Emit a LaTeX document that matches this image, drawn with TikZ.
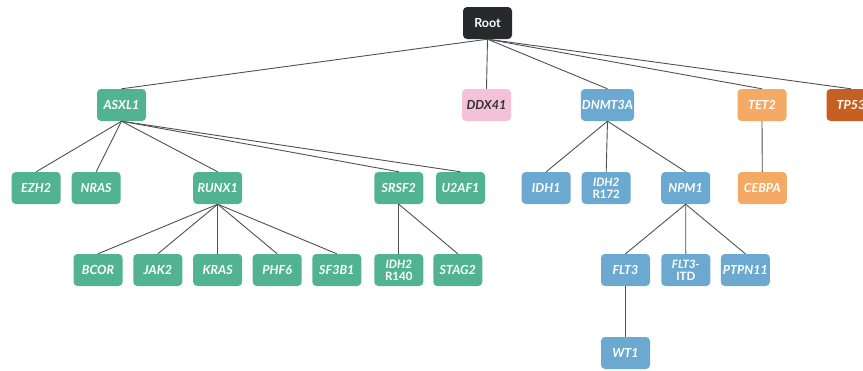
\documentclass[tikz,border=0pt]{standalone}
\usepackage{fontspec}
\setmainfont{Lato}
\definecolor{cgreen}{HTML}{52B393}
\definecolor{cblue}{HTML}{6CA9D1}
\definecolor{corange}{HTML}{F4A964}
\definecolor{cdorange}{HTML}{C65F22}
\definecolor{cpink}{HTML}{F5C1D9}
\definecolor{croot}{HTML}{262A2D}
\definecolor{cedge}{HTML}{505050}
\begin{document}
\begin{tikzpicture}[x=1pt,y=-1pt,
  box/.style={rounded corners=4pt,minimum width=49pt,minimum height=32pt,inner sep=1pt,
    text=white,font=\fontsize{12.5}{12.5}\selectfont\bfseries\itshape,align=center},
  gn/.style={box,fill=cgreen},
  bn/.style={box,fill=cblue},
  on/.style={box,fill=corange},
  dn/.style={box,fill=cdorange},
  pn/.style={box,fill=cpink,text=black!80},
  rn/.style={box,fill=croot,font=\fontsize{12.5}{12.5}\selectfont\bfseries},
  two/.style={font=\fontsize{11.5}{12}\selectfont\bfseries},
  edge/.style={draw=cedge,line width=0.9pt}]
\useasboundingbox (0,0) rectangle (863,370);
% row 0
\node[rn] (root) at (487.5,23) {Root};
% row 1
\node[gn] (asxl1) at (121.5,105) {ASXL1};
\node[pn] (ddx41) at (486.5,105) {DDX41};
\node[bn] (dnmt3a) at (607.5,105) {DNMT3A};
\node[on] (tet2) at (762,105) {TET2};
\node[dn] (tp53) at (851,105) {TP53};
% row 2
\node[gn] (ezh2) at (36.2,188) {EZH2};
\node[gn] (nras) at (96.2,188) {NRAS};
\node[gn] (runx1) at (217.7,188) {RUNX1};
\node[gn] (srsf2) at (398.8,188) {SRSF2};
\node[gn] (u2af1) at (460.5,188) {U2AF1};
\node[bn] (idh1) at (546.2,188) {IDH1};
\node[bn,two] (idh2b) at (606.2,188) {\itshape IDH2\\R172};
\node[bn] (npm1) at (685.7,188) {NPM1};
\node[on] (cebpa) at (762.3,188) {CEBPA};
% row 3
\node[gn] (bcor) at (98,270) {BCOR};
\node[gn] (jak2) at (157.8,270) {JAK2};
\node[gn] (kras) at (217.7,270) {KRAS};
\node[gn] (phf6) at (277.2,270) {PHF6};
\node[gn] (sf3b1) at (336.8,270) {SF3B1};
\node[gn,two] (idh2a) at (398.8,270) {\itshape IDH2\\R140};
\node[gn] (stag2) at (457.8,270) {STAG2};
\node[bn] (flt3) at (625.5,270) {FLT3};
\node[bn,two] (flt3itd) at (685.8,270) {\itshape FLT3-\\ITD};
\node[bn] (ptpn11) at (745.3,270) {PTPN11};
% row 4
\node[bn] (wt1) at (625.5,353) {WT1};
% edges
\foreach \p/\c in {root/asxl1,root/ddx41,root/dnmt3a,root/tet2,root/tp53,
  asxl1/ezh2,asxl1/nras,asxl1/runx1,asxl1/srsf2,asxl1/u2af1,
  runx1/bcor,runx1/jak2,runx1/kras,runx1/phf6,runx1/sf3b1,
  srsf2/idh2a,srsf2/stag2,
  dnmt3a/idh1,dnmt3a/idh2b,dnmt3a/npm1,
  npm1/flt3,npm1/flt3itd,npm1/ptpn11,flt3/wt1,tet2/cebpa}
  \draw[edge] (\p.south) -- (\c.north);
\end{tikzpicture}
\end{document}
